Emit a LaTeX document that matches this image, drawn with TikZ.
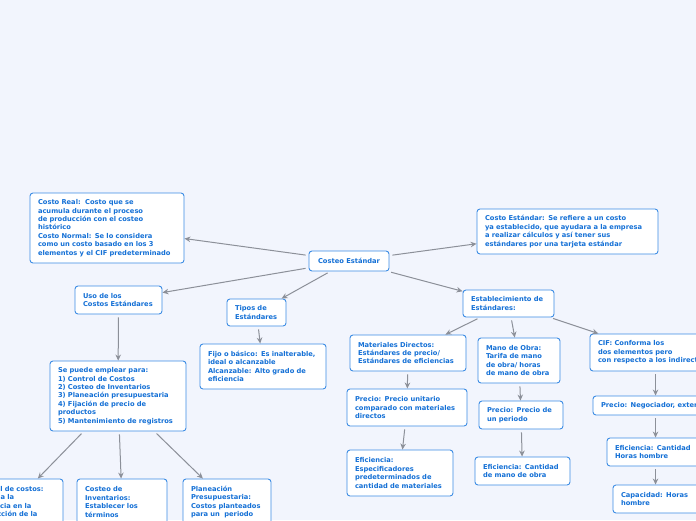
\documentclass[tikz,border=0pt]{standalone}
\usepackage{fontspec}
\setmainfont{DejaVu Sans}
\usetikzlibrary{arrows.meta}
\definecolor{bgcol}{HTML}{F2F5FD}
\definecolor{txtcol}{HTML}{1470D6}
\definecolor{bdcol}{HTML}{3C8CE4}
\definecolor{arrcol}{HTML}{8C9099}
\tikzset{
  box/.style={draw=bdcol, fill=white, rounded corners=3pt, line width=0.9pt,
    text=txtcol, font=\bfseries\fontsize{6.7}{8.4}\selectfont, align=left,
    inner xsep=8pt, inner ysep=2pt},
  conn/.style={draw=arrcol, line width=1pt, shorten <=3pt,
    -{Stealth[length=6pt,width=5.5pt]}}
}
\begin{document}
\begin{tikzpicture}[x=1pt,y=-1pt]
\useasboundingbox (0,0) rectangle (696,520);
\clip (0,0) rectangle (696,520);
\fill[bgcol] (0,0) rectangle (696,520);

\node[box, text width=138pt, minimum height=70pt] (real) at (107,228)
{Costo Real:\ \ Costo que se\\ acumula durante el proceso\\ de producción con el costeo\\ histórico\\ Costo Normal: Se lo considera\\ como un costo basado en los 3\\ elementos y el CIF predeterminado};
\node[box, align=center, minimum width=80pt, minimum height=20pt, inner xsep=4pt] (ce) at (349,261) {Costeo Estándar};
\node[box, text width=165pt, minimum height=45pt] (cest) at (567.5,231.5)
{Costo Estándar: Se refiere a un costo\\ ya establecido, que ayudara a la empresa\\ a realizar cálculos y así tener sus\\ estándares por una tarjeta estándar};
\node[box, text width=71pt, minimum height=28pt] (uso) at (118.5,300) {Uso de los\\ Costos Estándares};
\node[box, text width=43pt, minimum height=27pt] (tipos) at (256.5,312.5) {Tipos de\\ Estándares};
\node[box, text width=110pt, minimum height=45pt] (fijo) at (263,366.5)
{Fijo o básico: Es inalterable,\\ ideal o alcanzable\\ Alcanzable: Alto grado de\\ eficiencia};
\node[box, text width=120pt, minimum height=70pt] (sepu) at (118,396)
{Se puede emplear para:\\ 1) Control de Costos\\ 2) Costeo de Inventarios\\ 3) Planeación presupuestaria\\ 4) Fijación de precio de\\ productos\\ 5) Mantenimiento de registros};
\node[box, text width=75pt, minimum height=27pt] (est) at (508.5,303.5) {Establecimiento de\\ Estándares:};
\node[box, text width=100pt, minimum height=36pt] (mat) at (408,353)
{Materiales Directos:\\ Estándares de precio/\\ Estándares de eficiencias};
\node[box, text width=66pt, minimum height=45pt] (mano) at (519,360.5)
{Mano de Obra:\\ Tarifa de mano\\ de obra/ horas\\ de mano de obra};
\node[box, text width=114pt, minimum height=37pt] (cif) at (655,352.5)
{CIF: Conforma los\\ dos elementos pero\\ con respecto a los indirectos};
\node[box, text width=104pt, minimum height=37pt] (pu) at (407,407.5)
{Precio: Precio unitario\\ comparado con materiales\\ directos};
\node[box, text width=68pt, minimum height=28pt] (pp) at (521,415) {Precio: Precio de\\ un periodo};
\node[box, text width=151pt, minimum height=19pt] (pn) at (676.5,405.5) {Precio: Negociador, externo};
\node[box, text width=90pt, minimum height=46pt] (ee) at (400,473)
{Eficiencia:\\ Especificadores\\ predeterminados de\\ cantidad de materiales};
\node[box, text width=79pt, minimum height=28pt] (em) at (522.5,471) {Eficiencia: Cantidad\\ de mano de obra};
\node[box, text width=82pt, minimum height=28pt] (eh) at (656,452) {Eficiencia: Cantidad\\ Horas hombre};
\node[box, text width=76pt, minimum height=28pt] (cap) at (659,499) {Capacidad: Horas\\ hombre};
\node[box, text width=80pt, minimum height=46pt] (ctrl) at (15,502)
{Control de costos:\\ Ayuda a la\\ eficiencia en la\\ producción de la};
\node[box, text width=74pt, minimum height=46pt] (cinv) at (122,502)
{Costeo de\\ Inventarios:\\ Establecer los\\ términos};
\node[box, text width=72pt, minimum height=46pt] (plan) at (227,502)
{Planeación\\ Presupuestaria:\\ Costos planteados\\ para un\ \ periodo};

\draw[conn] (ce) -- (real);
\draw[conn] (ce) -- (cest);
\draw[conn] (ce) -- (uso);
\draw[conn] (ce) -- (tipos);
\draw[conn] (ce) -- (est);
\draw[conn] (uso) -- (sepu);
\draw[conn] (tipos) -- (fijo);
\draw[conn] (est) -- (mat);
\draw[conn] (est) -- (mano);
\draw[conn] (est) -- (cif);
\draw[conn] (mat) -- (pu);
\draw[conn] (pu) -- (ee);
\draw[conn] (mano) -- (pp);
\draw[conn] (pp) -- (em);
\draw[conn] ([xshift=66pt]cif.south west) -- ([xshift=63pt]pn.north west);
\draw[conn] ([xshift=63pt]pn.south west) -- ([xshift=49pt]eh.north west);
\draw[conn] ([xshift=49pt]eh.south west) -- ([xshift=43pt]cap.north west);
\draw[conn] (sepu) -- (ctrl);
\draw[conn] (sepu) -- (cinv);
\draw[conn] (sepu) -- (plan);
\end{tikzpicture}
\end{document}
